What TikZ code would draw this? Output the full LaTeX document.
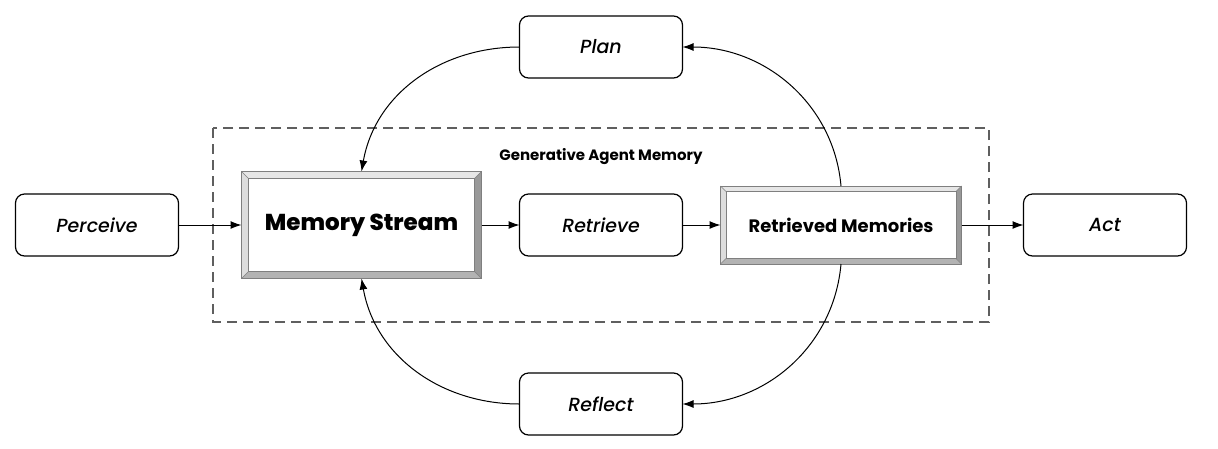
\documentclass[tikz,border=0pt]{standalone}
\usepackage{fontspec}
\setmainfont{Poppins}
\newfontfamily\stepfont{Poppins}[UprightFont=* Medium, ItalicFont=* Medium Italic]
\newfontfamily\heavyfont{Poppins}[UprightFont=* ExtraBold]
\usetikzlibrary{positioning,arrows.meta,calc}

\definecolor{bevlight}{HTML}{E6E6E6}
\definecolor{bevside}{HTML}{DDDDDD}
\definecolor{bevdark}{HTML}{999999}
\definecolor{bevmid}{HTML}{B3B3B3}
\definecolor{bevline}{HTML}{7F7F7F}
\definecolor{dashgray}{HTML}{5F5F5F}

% bevelled frame round a named node: #1 node, #2 bevel depth
\newcommand{\bevelframe}[2]{%
  \fill[bevlight] (#1.north west) -- (#1.north east)
    -- ([shift={(-#2,-#2)}]#1.north east) -- ([shift={(#2,-#2)}]#1.north west) -- cycle;
  \fill[bevside] (#1.north west) -- ([shift={(#2,-#2)}]#1.north west)
    -- ([shift={(#2,#2)}]#1.south west) -- (#1.south west) -- cycle;
  \fill[bevdark] (#1.north east) -- (#1.south east)
    -- ([shift={(-#2,#2)}]#1.south east) -- ([shift={(-#2,-#2)}]#1.north east) -- cycle;
  \fill[bevmid] (#1.south west) -- (#1.south east)
    -- ([shift={(-#2,#2)}]#1.south east) -- ([shift={(#2,#2)}]#1.south west) -- cycle;
  \draw[bevline, line width=1pt] (#1.north west) rectangle (#1.south east);
  \draw[bevline, line width=0.8pt] ([shift={(#2,-#2)}]#1.north west) rectangle ([shift={(-#2,#2)}]#1.south east);
  \draw[bevline, line width=0.6pt] (#1.north west) -- ([shift={(#2,-#2)}]#1.north west)
    (#1.north east) -- ([shift={(-#2,-#2)}]#1.north east)
    (#1.south west) -- ([shift={(#2,#2)}]#1.south west)
    (#1.south east) -- ([shift={(-#2,#2)}]#1.south east);
}

\begin{document}
\begin{tikzpicture}[
  x=1pt, y=1pt, >={Latex[length=11pt, width=8pt]},
  stepbox/.style={draw, rounded corners=9pt, line width=1.2pt, align=center,
    minimum width=163pt, minimum height=62pt, outer sep=0pt,
    font=\stepfont\fontsize{19}{22}\selectfont\itshape},
  store/.style={align=center, outer sep=0pt, inner sep=0pt},
  flow/.style={->, line width=1pt, black},
  loop/.style={->, line width=1pt, black},
  group/.style={draw=dashgray, line width=2.4pt, dash pattern=on 10pt off 6pt},
]
\useasboundingbox (0,0) rectangle (1218,-448);
% ---- memory group (dashed) ----
\draw[group] (213,-128) rectangle (989,-322);
\node[font=\fontsize{15}{17}\selectfont\bfseries] (grouplbl) at (601,-157) {Generative Agent Memory};
% ---- main row ----
\node[stepbox] (perceive) at (97,-225) {Perceive};
\node[store, minimum width=240pt, minimum height=107pt, right=63pt of perceive,
  font=\heavyfont\fontsize{23}{26}\selectfont] (stream) {Memory Stream};
\node[stepbox, right=38pt of stream] (retrieve) {Retrieve};
\node[store, minimum width=241pt, minimum height=78pt, right=38pt of retrieve,
  font=\fontsize{18}{21}\selectfont\bfseries] (retrieved) {Retrieved Memories};
\node[stepbox, right=62pt of retrieved] (act) {Act};
% ---- loop boxes ----
\node[stepbox] (plan) at (retrieve |- 0,-47) {Plan};
\node[stepbox] (reflect) at (retrieve |- 0,-404) {Reflect};
% ---- bevels ----
\bevelframe{stream}{7pt}
\bevelframe{retrieved}{5.5pt}
% ---- arrows ----
\draw[flow] (perceive) -- (stream);
\draw[flow] (stream) -- (retrieve);
\draw[flow] (retrieve) -- (retrieved);
\draw[flow] (retrieved) -- (act);
\draw[loop] (plan.west) to[out=180, in=80] (stream.north);
\draw[loop] (retrieved.north) to[out=95, in=0] (plan.east);
\draw[loop] (retrieved.south) to[out=-95, in=0] (reflect.east);
\draw[loop] (reflect.west) to[out=180, in=-80] (stream.south);
\end{tikzpicture}
\end{document}
